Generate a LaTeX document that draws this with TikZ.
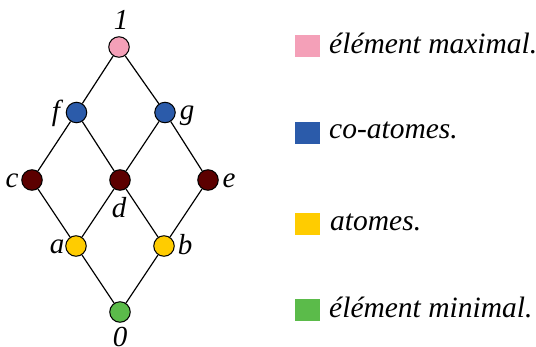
\documentclass[tikz,border=0pt]{standalone}
\usepackage{fontspec}
\setmainfont{Liberation Serif}[ItalicFont={Liberation Serif Italic}]
\definecolor{cpink}{HTML}{F4A0B8}
\definecolor{cblue}{HTML}{2B5BAA}
\definecolor{cdred}{HTML}{5C0000}
\definecolor{cyellow}{HTML}{FFCC00}
\definecolor{cgreen}{HTML}{5BBB4A}
\begin{document}
\begin{tikzpicture}[x=1pt,y=-1pt,
  vert/.style={circle,draw=black,line width=1pt,minimum size=20.5pt,inner sep=0pt},
  lbl/.style={font=\fontsize{29}{31}\selectfont\itshape,inner sep=0pt},
  edge/.style={line width=1.2pt},
  sq/.style={minimum width=25pt,minimum height=22pt,inner sep=0pt},
  legtext/.style={font=\fontsize{29.5}{31}\selectfont\itshape,anchor=base west,inner sep=0pt}]
\useasboundingbox (0,0) rectangle (536,346);
\node[vert,fill=cpink] (n1) at (119,47) {};
\node[vert,fill=cblue] (f) at (76.5,112.5) {};
\node[vert,fill=cblue] (g) at (165,112.5) {};
\node[vert,fill=cdred] (c) at (32,180) {};
\node[vert,fill=cdred] (d) at (120,180) {};
\node[vert,fill=cdred] (e) at (208,180) {};
\node[vert,fill=cyellow] (a) at (76,246) {};
\node[vert,fill=cyellow] (b) at (164,246) {};
\node[vert,fill=cgreen] (n0) at (120,312) {};
\draw[edge] (n1) -- (f);
\draw[edge] (n1) -- (g);
\draw[edge] (f) -- (c);
\draw[edge] (f) -- (d);
\draw[edge] (g) -- (d);
\draw[edge] (g) -- (e);
\draw[edge] (c) -- (a);
\draw[edge] (d) -- (a);
\draw[edge] (d) -- (b);
\draw[edge] (e) -- (b);
\draw[edge] (a) -- (n0);
\draw[edge] (b) -- (n0);
\node[lbl] (l1) at (121,20) {1};
\node[lbl] (lf) at (56,113) {f};
\node[lbl] (lg) at (187,116) {g};
\node[lbl] (lc) at (12,181) {c};
\node[lbl] (le) at (229,181) {e};
\node[lbl] (ld) at (119,208) {d};
\node[lbl] (la) at (57,247) {a};
\node[lbl] (lb) at (185,245) {b};
\node[lbl] (l0) at (120,337) {0};
\node[sq,fill=cpink] (s1) at (307.5,46) {};
\node[sq,fill=cblue] (s2) at (307.5,132.5) {};
\node[sq,fill=cyellow] (s3) at (307.5,223.5) {};
\node[sq,fill=cgreen] (s4) at (307.5,310) {};
\node[legtext] (t1) at (329,53) {élément maximal.};
\node[legtext] (t2) at (329,138) {co-atomes.};
\node[legtext] (t3) at (330,230) {atomes.};
\node[legtext] (t4) at (329,317) {élément minimal.};
\end{tikzpicture}
\end{document}
